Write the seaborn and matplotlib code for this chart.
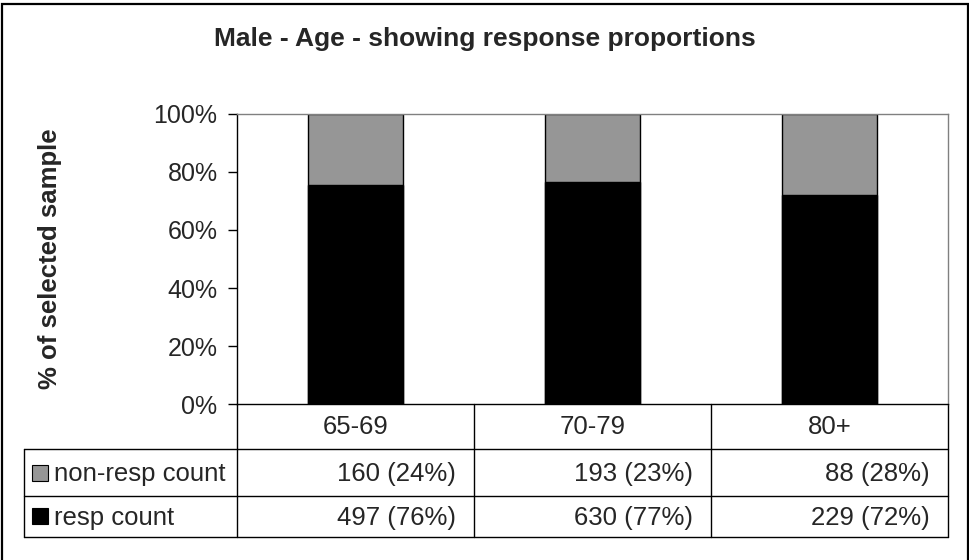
import matplotlib
matplotlib.use("Agg")
import matplotlib.pyplot as plt
from matplotlib.patches import Rectangle
from matplotlib.transforms import blended_transform_factory
import pandas as pd
import seaborn as sns

# chart values
age_groups = ["65-69", "70-79", "80+"]
resp_count = [497, 630, 229]
nonresp_count = [160, 193, 88]
row_labels = ["non-resp count", "resp count"]
y_ticks = [0, 20, 40, 60, 80, 100]

sns.set_style("white")
plt.rcParams["font.family"] = ["Liberation Sans", "DejaVu Sans"]

df = pd.DataFrame({"age": age_groups, "resp": resp_count, "nonresp": nonresp_count})
df["total"] = df["resp"] + df["nonresp"]
df["resp_pct"] = df["resp"] / df["total"] * 100
df["nonresp_pct"] = df["nonresp"] / df["total"] * 100
df["stack_top"] = df["resp_pct"] + df["nonresp_pct"]

W, H = 969, 560
fig = plt.figure(figsize=(W / 100, H / 100), dpi=100)
ax = fig.add_axes([237 / W, 1 - 404 / H, (948 - 237) / W, (404 - 114) / H])

gray = "#969696"
fs = 18
fs_tab = 18.5
sns.barplot(data=df, x="age", y="stack_top", color=gray, edgecolor="black",
            linewidth=1, width=0.4, saturation=1, errorbar=None, ax=ax)
sns.barplot(data=df, x="age", y="resp_pct", color="black", edgecolor="black",
            linewidth=1, width=0.4, saturation=1, errorbar=None, ax=ax)

ax.set_xlim(-0.5, len(age_groups) - 0.5)
ax.set_ylim(0, 100)
ax.set_yticks(y_ticks)
ax.set_yticklabels([f"{t}%" for t in y_ticks], fontsize=fs)
ax.tick_params(axis="y", direction="out", length=6.5, width=1, color="black", pad=7.5, left=True)
ax.tick_params(axis="x", length=0, labelsize=fs_tab, pad=8)
ax.set_xlabel("")
ax.set_ylabel("% of selected sample", fontsize=18.5, fontweight="bold")
ax.yaxis.set_label_coords((62 - 237) / (948 - 237), 0.5)
for side in ["left", "bottom"]:
    ax.spines[side].set_color("black")
    ax.spines[side].set_linewidth(1)
for side in ["top", "right"]:
    ax.spines[side].set_color("#808080")
    ax.spines[side].set_linewidth(1)

# data table below the axis
trans = blended_transform_factory(ax.transData, ax.transAxes)
ax_h = 404 - 114
col_px = (948 - 237) / len(age_groups)
y_row1 = -(449 - 404) / ax_h
y_row2 = -(496 - 404) / ax_h
y_bot = -(537 - 404) / ax_h
x_left = -0.5 - (237 - 24) / col_px
n = len(age_groups)
for xb in [i - 0.5 for i in range(n + 1)]:
    ax.plot([xb, xb], [0, y_bot], color="black", lw=1, transform=trans, clip_on=False)
for yy in [y_row1, y_row2, y_bot]:
    ax.plot([x_left, n - 0.5], [yy, yy], color="black", lw=1, transform=trans, clip_on=False)
ax.plot([x_left, x_left], [y_row1, y_bot], color="black", lw=1, transform=trans, clip_on=False)

row_y = [(y_row1 + y_row2) / 2 - 2 / ax_h, (y_row2 + y_bot) / 2 - 1 / ax_h]
row_colors = [gray, "black"]
row_counts = [df["nonresp"], df["resp"]]
row_pcts = [df["nonresp_pct"], df["resp_pct"]]
sq = 16
for r in range(2):
    ax.add_patch(Rectangle((x_left + 8 / col_px, row_y[r] - 6 / ax_h), sq / col_px, sq / ax_h,
                           facecolor=row_colors[r], edgecolor="black", lw=0.8,
                           transform=trans, clip_on=False))
    ax.text(x_left + 30 / col_px, row_y[r], row_labels[r], fontsize=fs_tab, ha="left",
            va="center", transform=trans)
    for i in range(n):
        ax.text(i + 0.5 - 18 / col_px, row_y[r], f"{row_counts[r][i]} ({row_pcts[r][i]:.0f}%)",
                fontsize=fs_tab, ha="right", va="center", transform=trans)

fig.text(0.5, 1 - 39 / H, "Male - Age - showing response proportions",
         ha="center", va="center", fontsize=19, fontweight="bold")
fig.patches.append(Rectangle((1.5 / W, -0.01), 1 - 3 / W, 1 - 3.5 / H + 0.01, fill=False,
                             edgecolor="black", lw=1.6, transform=fig.transFigure))

fig.savefig("out.png", dpi=100)
